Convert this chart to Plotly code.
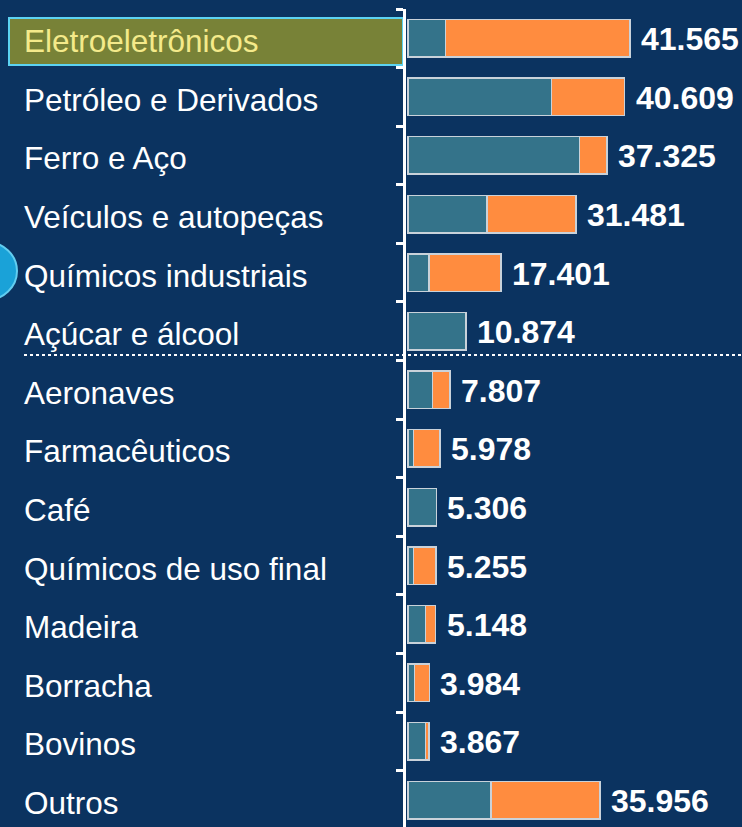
import plotly.graph_objects as go

# setores e valores (mil)
setores = ['Eletroeletrônicos', 'Petróleo e Derivados', 'Ferro e Aço', 'Veículos e autopeças',
           'Químicos industriais', 'Açúcar e álcool', 'Aeronaves', 'Farmacêuticos', 'Café',
           'Químicos de uso final', 'Madeira', 'Borracha', 'Bovinos', 'Outros']
totais = [41565, 40609, 37325, 31481, 17401, 10874, 7807, 5978, 5306, 5255, 5148, 3984, 3867, 35956]
parte_azul = [7.0, 26.9, 32.1, 14.8, 3.9, 10.874, 4.6, 1.0, 5.306, 1.0, 3.25, 1.2, 3.3, 15.5]
parte_laranja = [34.565, 13.709, 5.225, 16.681, 13.501, None, 3.207, 4.978, None, 4.255, 1.898, 2.784, 0.567, 20.456]

BG = '#0B3360'
TEAL = '#34738A'
ORANGE = '#FF8C3F'
EDGE = '#C9D2DA'
FONT = 'Liberation Sans, Arial'
W, H = 742, 827


def fmt(v):
    return f'{v:,}'.replace(',', '.')


fig = go.Figure()
fig.add_trace(go.Bar(y=setores, x=parte_azul, orientation='h', name='a',
                     marker=dict(color=TEAL, line=dict(color=EDGE, width=1.5))))
fig.add_trace(go.Bar(y=setores, x=parte_laranja, orientation='h', name='b',
                     marker=dict(color=ORANGE, line=dict(color=EDGE, width=1.5))))

# valores no fim das barras
for s, t in zip(setores, totais):
    fig.add_annotation(x=t / 1000, y=s, xref='x', yref='y', text='<b>' + fmt(t) + '</b>',
                       showarrow=False, xanchor='left', xshift=9, yshift=-1,
                       font=dict(family=FONT, size=32, color='white'))

# rótulos alinhados à esquerda
for i, s in enumerate(setores):
    cor = '#F4EA8A' if i == 0 else 'white'
    fig.add_annotation(x=22 / W, y=s, xref='paper', yref='y', text=s, showarrow=False,
                       xanchor='left', yshift=-3,
                       font=dict(family=FONT, size=31.5, color=cor))

top = 9
def py(p):
    return 1 - (p - top) / (H - top)

fig.update_layout(
    shapes=[
        # destaque do primeiro setor
        dict(type='rect', xref='paper', yref='paper', x0=9 / W, x1=403 / W, y0=py(65), y1=py(18),
             fillcolor='#788237', line=dict(color='#5CD3F2', width=2), layer='below'),
        # círculo cortado na margem
        dict(type='circle', xref='paper', yref='paper', x0=-44 / W, x1=17 / W, y0=py(300), y1=py(242),
             fillcolor='#1AA2D8', line=dict(color='#62CDF0', width=2)),
        # linha pontilhada
        dict(type='line', xref='paper', yref='paper', x0=24 / W, x1=1, y0=py(355), y1=py(355),
             line=dict(color='white', width=2, dash='dot')),
    ],
    barmode='stack',
    bargap=0.36,
    showlegend=False,
    width=W, height=H,
    margin=dict(l=0, r=0, t=top, b=0),
    paper_bgcolor=BG,
    plot_bgcolor=BG,
    xaxis=dict(domain=[406 / W, 1], range=[-0.4, 62.6], showgrid=False, zeroline=False,
               showticklabels=False, fixedrange=True),
    yaxis=dict(range=[13.46, -0.5], showgrid=False, zeroline=False, showticklabels=False,
               showline=True, linecolor='white', linewidth=3,
               ticks='outside', tickson='boundaries', ticklen=7, tickwidth=3, tickcolor='white'),
)

fig.write_html('out.html', config={'displayModeBar': False},
               post_script="document.body.style.margin='0';document.body.style.background='%s';" % BG)
